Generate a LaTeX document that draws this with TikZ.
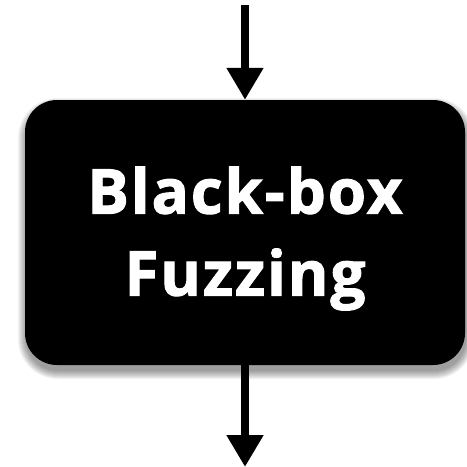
\documentclass[tikz,border=0pt]{standalone}
\usepackage{fontspec}
\newfontfamily\boxfont[LetterSpace=3, BoldFeatures={FakeBold=1.6}]{Open Sans}
\usetikzlibrary{arrows.meta}

\tikzset{
  flowarrow/.style={-{Triangle[width=35pt,length=32pt]}, line width=8pt, black},
  fuzzbox/.style={rectangle, rounded corners=32pt, fill=black,
    minimum width=440pt, minimum height=265pt},
  fuzzlabel/.style={text=white, align=center,
    font=\boxfont\bfseries\fontsize{62}{82}\selectfont},
}

\begin{document}
\begin{tikzpicture}[x=1pt, y=-1pt]
  \useasboundingbox (0,0) rectangle (467,467);
  % soft shadow under the box
  \foreach \s in {0,...,8}{
    \fill[black, fill opacity=0.05, rounded corners={32pt+\s pt}]
      (26-\s,106-\s) rectangle (466+\s,371+\s);
  }
  % the box and its text
  \node[fuzzbox] (fuzz) at (245,232.5) {};
  \node[fuzzlabel] (fuzztext) at ([yshift=-6pt]fuzz.center) {Black-box\\Fuzzing};
  % input and output
  \coordinate (in) at (245,5);
  \coordinate (out) at (245,467);
  \draw[flowarrow] (in) -- (fuzz.north);
  \draw[flowarrow] (fuzz.south) -- (out);
\end{tikzpicture}
\end{document}
